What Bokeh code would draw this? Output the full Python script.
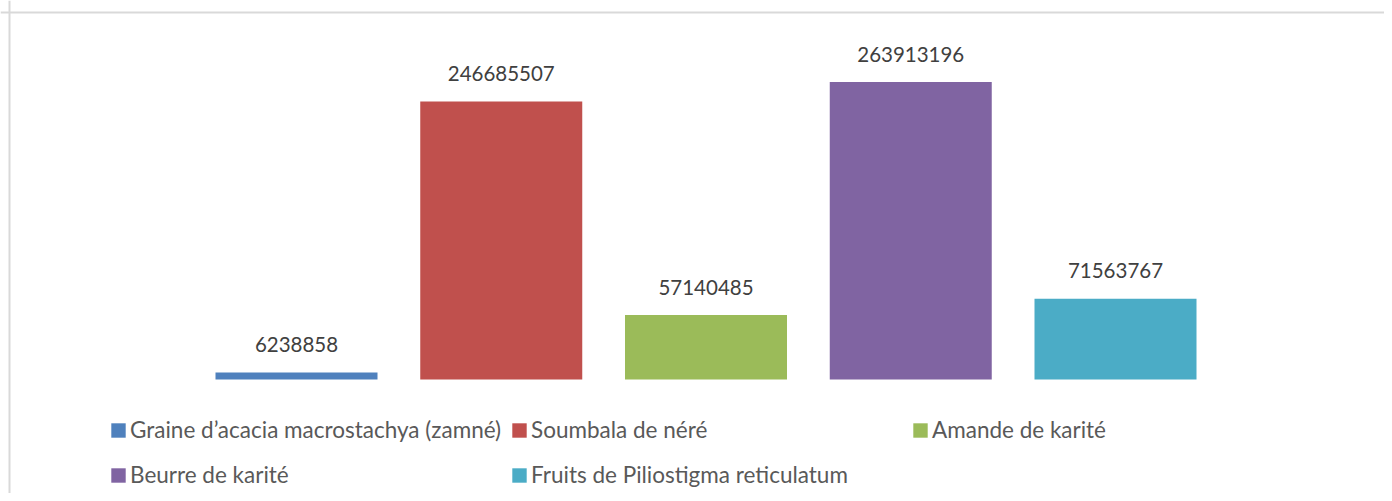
from bokeh.plotting import figure
from bokeh.models import Range1d, Legend, LegendItem, Span, ColumnDataSource
from bokeh.core.properties import value
from bokeh.embed import file_html
from bokeh.resources import INLINE

# ---- data ----
categories = [
    "Graine d\u2019acacia macrostachya (zamné)",
    "Soumbala de néré",
    "Amande de karité",
    "Beurre de karité",
    "Fruits de Piliostigma reticulatum",
]
values = [6238858, 246685507, 57140485, 263913196, 71563767]
colors = ["#4F81BD", "#C0504D", "#9BBB59", "#8064A2", "#4BACC6"]
labels = [str(v) for v in values]

# ---- layout constants (pixels) ----
W, H = 1384, 493
PX_PER_UNIT_Y = 1.127e-6      # px per value unit
BASELINE_FROM_TOP = 379       # px
PITCH = 204.75                # px per category
FIRST_CENTER = 296            # px from left
BAR_W_PX = 162

y_end = BASELINE_FROM_TOP / PX_PER_UNIT_Y
y_start = -(H - BASELINE_FROM_TOP) / PX_PER_UNIT_Y
x_start = -FIRST_CENTER / PITCH
x_end = (W - FIRST_CENTER) / PITCH

p = figure(width=W, height=H, output_backend="svg", toolbar_location=None,
           x_range=Range1d(x_start, x_end), y_range=Range1d(y_start, y_end),
           min_border=0, min_border_left=0, min_border_right=0,
           min_border_top=0, min_border_bottom=0)
p.axis.visible = False
p.grid.visible = False
p.outline_line_color = None
p.background_fill_color = "white"
p.border_fill_color = "white"

items = []
for i, (cat, v, c) in enumerate(zip(categories, values, colors)):
    src = ColumnDataSource(dict(x=[i], top=[v], lab=[labels[i]]))
    r = p.vbar(x="x", top="top", bottom=0, width=BAR_W_PX / PITCH, source=src,
               fill_color=c, line_color=None)
    p.text(x="x", y="top", text="lab", source=src, y_offset=-28,
           text_align="center", text_baseline="alphabetic",
           text_font=value("Lato"), text_font_size="20.5px", text_color="#404040")
    items.append(LegendItem(label=cat, renderers=[r]))

legend = Legend(items=items, orientation="horizontal", ncols=3,
                location=(109, -4), padding=0, margin=0,
                border_line_color=None, background_fill_alpha=0,
                glyph_width=18, glyph_height=18, label_standoff=3,
                label_width=380, label_height=45, spacing=0,
                label_text_font="Lato", label_text_font_size="22.5px",
                label_text_color="#595959")
p.add_layout(legend, "center")

# chart border (top and left edges visible)
p.add_layout(Span(location=y_end - 12 / PX_PER_UNIT_Y, dimension="width",
                  line_color="#d9d9d9", line_width=2))
p.add_layout(Span(location=x_start + 9 / PITCH, dimension="height",
                  line_color="#d9d9d9", line_width=2))

open("out.html", "w").write(file_html(p, INLINE))
